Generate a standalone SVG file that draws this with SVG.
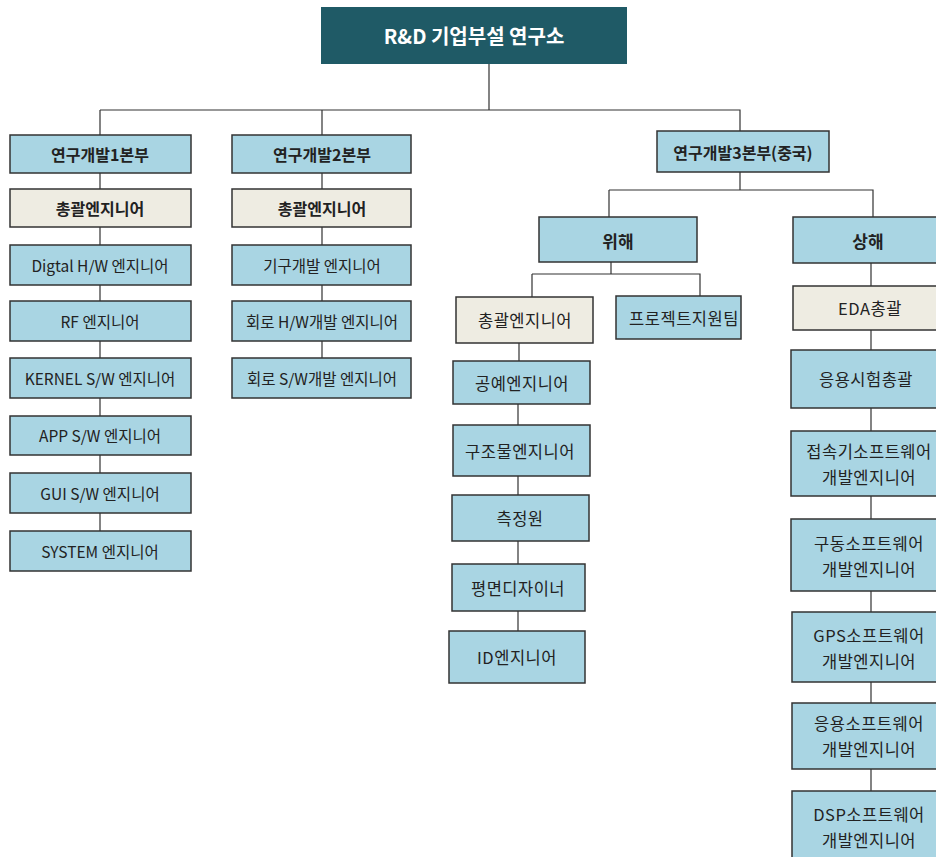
<svg xmlns="http://www.w3.org/2000/svg" width="936" height="857" viewBox="0 0 936 857">
<style>
.b{fill:#a9d5e3;stroke:#333;stroke-width:1.5}
.e{fill:#eeece2;stroke:#333;stroke-width:1.5}
.t{font-family:"Noto Sans CJK KR","Noto Sans",sans-serif;font-size:15.5px;fill:#222;text-anchor:middle;dominant-baseline:central}
.tb{font-weight:bold;font-size:16px}
.tl{font-size:16.5px;letter-spacing:0.5px}
.c{stroke:#333;stroke-width:1.2;fill:none}
</style>
<rect width="936" height="857" fill="#fff"/>
<g id="connectors">
<path class="c" d="M489 64V110M100 110H740V131M100 110V135M322 110V135"/>
<path class="c" d="M100 173V189M100 227V245M100 285V301M100 341V358M100 398V416M100 455V473M100 513V531"/>
<path class="c" d="M322 173V189M322 227V245M322 285V301M322 341V358"/>
<path class="c" d="M740 172V190M609 190H873V217M609 190V217"/>
<path class="c" d="M611 262V274M532 274H700V296M532 274V297"/>
<path class="c" d="M519 343V361M518 404V425M518 476V495M518 541V564M518 611V631"/>
<path class="c" d="M871 263V286M871 330V350M871 408V431M871 496V519M871 591V612M871 682V703M871 769V791"/>
</g>
<g id="root"><rect x="321" y="7" width="306" height="57" fill="#1f5a66"/><text class="t tb" x="474" y="35" style="font-size:20px;fill:#fff">R&amp;D 기업부설 연구소</text></g>
<g id="d1"><rect class="b" x="10" y="135" width="181" height="38"/><text class="t tb" x="100" y="154">연구개발1본부</text></g>
<g id="d1-chief"><rect class="e" x="10" y="189" width="181" height="38"/><text class="t tb" x="100" y="208">총괄엔지니어</text></g>
<g id="d1-hw"><rect class="b" x="10" y="245" width="181" height="40"/><text class="t" x="100" y="265">Digtal H/W 엔지니어</text></g>
<g id="d1-rf"><rect class="b" x="10" y="301" width="181" height="40"/><text class="t" x="100" y="321">RF 엔지니어</text></g>
<g id="d1-kernel"><rect class="b" x="10" y="358" width="181" height="40"/><text class="t" x="100" y="378">KERNEL S/W 엔지니어</text></g>
<g id="d1-app"><rect class="b" x="10" y="416" width="181" height="39"/><text class="t" x="100" y="435">APP S/W 엔지니어</text></g>
<g id="d1-gui"><rect class="b" x="10" y="473" width="181" height="40"/><text class="t" x="100" y="493">GUI S/W 엔지니어</text></g>
<g id="d1-system"><rect class="b" x="10" y="531" width="181" height="40"/><text class="t" x="100" y="551">SYSTEM 엔지니어</text></g>
<g id="d2"><rect class="b" x="232" y="135" width="179" height="38"/><text class="t tb" x="322" y="154">연구개발2본부</text></g>
<g id="d2-chief"><rect class="e" x="232" y="189" width="179" height="38"/><text class="t tb" x="322" y="208">총괄엔지니어</text></g>
<g id="d2-mech"><rect class="b" x="232" y="245" width="179" height="40"/><text class="t" x="322" y="265">기구개발 엔지니어</text></g>
<g id="d2-hw"><rect class="b" x="232" y="301" width="179" height="40"/><text class="t" x="322" y="321">회로 H/W개발 엔지니어</text></g>
<g id="d2-sw"><rect class="b" x="232" y="358" width="179" height="40"/><text class="t" x="322" y="378">회로 S/W개발 엔지니어</text></g>
<g id="d3"><rect class="b" x="657" y="131" width="172" height="41"/><text class="t tb" x="743" y="152">연구개발3본부(중국)</text></g>
<g id="weihai"><rect class="b" x="539" y="217" width="158" height="45"/><text class="t tb" x="618" y="240" style="font-size:17px">위해</text></g>
<g id="shanghai"><rect class="b" x="793" y="217" width="155" height="46"/><text class="t tb" x="868" y="240" style="font-size:17px">상해</text></g>
<g id="w-chief"><rect class="e" x="456" y="297" width="137" height="46"/><text class="t tl" x="525" y="320">총괄엔지니어</text></g>
<g id="w-pst"><rect class="b" x="616" y="296" width="125" height="43"/><text class="t tl" x="684" y="318">프로젝트지원팀</text></g>
<g id="w-craft"><rect class="b" x="453" y="361" width="137" height="43"/><text class="t tl" x="522" y="383">공예엔지니어</text></g>
<g id="w-struct"><rect class="b" x="453" y="425" width="137" height="51"/><text class="t tl" x="520" y="451">구조물엔지니어</text></g>
<g id="w-measure"><rect class="b" x="452" y="495" width="137" height="46"/><text class="t tl" x="520" y="518">측정원</text></g>
<g id="w-flat"><rect class="b" x="452" y="564" width="133" height="47"/><text class="t tl" x="518" y="588">평면디자이너</text></g>
<g id="w-id"><rect class="b" x="449" y="631" width="136" height="52"/><text class="t tl" x="517" y="657">ID엔지니어</text></g>
<g id="s-eda"><rect class="e" x="793" y="286" width="155" height="44"/><text class="t tl" x="870" y="308">EDA총괄</text></g>
<g id="s-test"><rect class="b" x="791" y="350" width="157" height="58"/><text class="t tl" x="866" y="379">응용시험총괄</text></g>
<g id="s-conn"><rect class="b" x="791" y="431" width="157" height="65"/><text class="t tl" x="869" y="451">접속기소프트웨어</text><text class="t tl" x="869" y="477">개발엔지니어</text></g>
<g id="s-drive"><rect class="b" x="791" y="519" width="157" height="72"/><text class="t tl" x="869" y="543">구동소프트웨어</text><text class="t tl" x="869" y="569">개발엔지니어</text></g>
<g id="s-gps"><rect class="b" x="792" y="612" width="156" height="70"/><text class="t tl" x="869" y="635">GPS소프트웨어</text><text class="t tl" x="869" y="661">개발엔지니어</text></g>
<g id="s-app"><rect class="b" x="792" y="703" width="156" height="66"/><text class="t tl" x="869" y="723">응용소프트웨어</text><text class="t tl" x="869" y="749">개발엔지니어</text></g>
<g id="s-dsp"><rect class="b" x="792" y="791" width="156" height="75"/><text class="t tl" x="869" y="814">DSP소프트웨어</text><text class="t tl" x="869" y="840">개발엔지니어</text></g>
</svg>
